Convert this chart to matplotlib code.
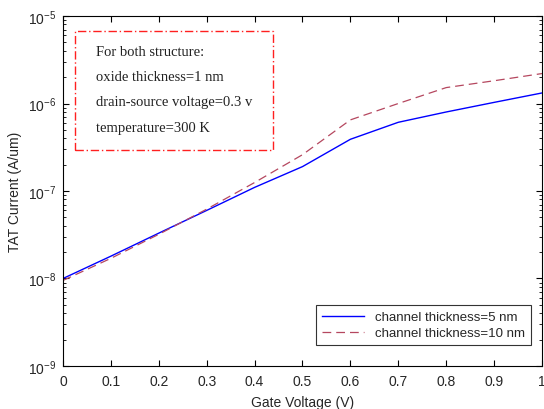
import matplotlib.pyplot as plt
from matplotlib.patches import Rectangle
from matplotlib.ticker import LogLocator, NullFormatter

# Gate voltage and TAT current
gate_voltage = [0.0, 0.1, 0.2, 0.3, 0.4, 0.5, 0.6, 0.7, 0.8, 0.9, 1.0]
tat_5nm = [1.0e-8, 1.8e-8, 3.3e-8, 6.0e-8, 1.1e-7, 1.9e-7, 3.9e-7, 6.1e-7, 8.0e-7, 1.03e-6, 1.32e-6]
tat_10nm = [9.5e-9, 1.7e-8, 3.2e-8, 6.2e-8, 1.25e-7, 2.6e-7, 6.5e-7, 1.0e-6, 1.52e-6, 1.82e-6, 2.2e-6]

note_lines = ['For both structure:',
              'oxide thickness=1 nm',
              'drain-source voltage=0.3 v',
              'temperature=300 K']

plt.rcParams['font.family'] = ['Liberation Sans', 'DejaVu Sans']
plt.rcParams['text.color'] = '#262626'
plt.rcParams['axes.labelcolor'] = '#262626'
plt.rcParams['xtick.labelcolor'] = '#262626'
plt.rcParams['ytick.labelcolor'] = '#262626'

fig = plt.figure(figsize=(5.44, 4.10), dpi=100)
ax = fig.add_axes([0.1158, 0.1049, 0.8805, 0.8536])

ax.plot(gate_voltage, tat_5nm, color='#0000ff', lw=1.0, label='channel thickness=5 nm')
ax.plot(gate_voltage, tat_10nm, color='#b5475f', lw=0.9, linestyle=(0, (7, 4)),
        label='channel thickness=10 nm')

ax.set_yscale('log')
ax.set_xlim(0, 1)
ax.set_ylim(1e-9, 1e-5)
ax.set_xticks([0, 0.1, 0.2, 0.3, 0.4, 0.5, 0.6, 0.7, 0.8, 0.9, 1.0])
ax.set_xticklabels(['0', '0.1', '0.2', '0.3', '0.4', '0.5', '0.6', '0.7', '0.8', '0.9', '1'])
ax.yaxis.set_major_locator(LogLocator(base=10, numticks=10))
ax.yaxis.set_minor_locator(LogLocator(base=10, subs=range(2, 10), numticks=10))
ax.yaxis.set_minor_formatter(NullFormatter())
ax.tick_params(which='both', direction='in', top=True, right=True, labelsize=10)
ax.tick_params(axis='x', pad=6)
ax.tick_params(axis='y', pad=5)
ax.tick_params(which='major', length=4)
ax.tick_params(which='minor', length=2)

ax.set_xlabel('Gate Voltage (V)', fontsize=10, labelpad=5)
ax.set_ylabel('TAT Current (A/um)', fontsize=10, labelpad=4)

# annotation box with dash-dot border
ax.add_patch(Rectangle((0.025, 0.617), 0.413, 0.340, transform=ax.transAxes,
                       fill=False, edgecolor='#ff2020', lw=1.0,
                       linestyle=(0, (6, 2, 1, 2))))
for i, line in enumerate(note_lines):
    ax.text(0.069, 0.900 - i * 0.0725, line, transform=ax.transAxes,
            fontsize=10.5, family='Liberation Serif', va='center', color='#222222')

leg = ax.legend(loc='lower right', fontsize=9.5, fancybox=False, framealpha=1,
                edgecolor='#333333', handlelength=3.2, borderpad=0.45,
                labelspacing=0.3, bbox_to_anchor=(0.99, 0.04))
leg.get_frame().set_linewidth(0.8)

plt.savefig('out.png', dpi=100)
